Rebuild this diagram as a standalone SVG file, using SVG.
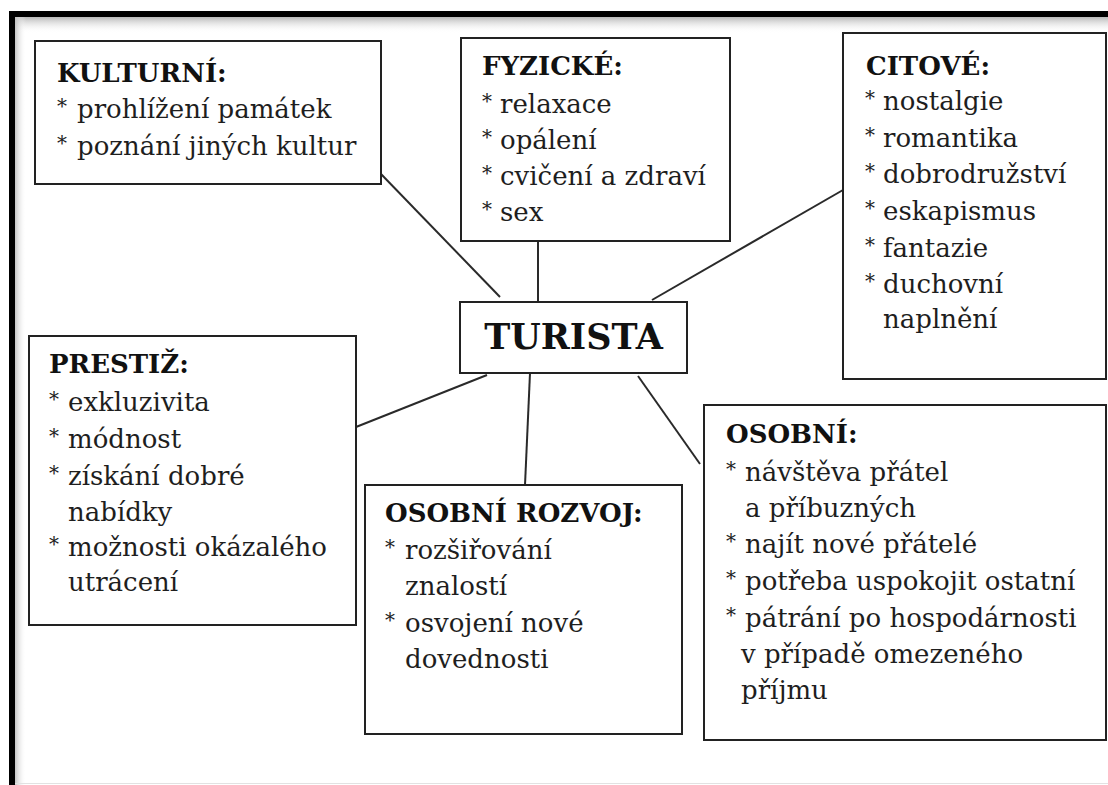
<svg xmlns="http://www.w3.org/2000/svg" width="1108" height="785" viewBox="0 0 1108 785">
<defs>
<linearGradient id="shTop" x1="0" y1="0" x2="0" y2="1">
<stop offset="0" stop-color="#b8b8b8"/>
<stop offset="1" stop-color="#ffffff" stop-opacity="0"/>
</linearGradient>
<linearGradient id="shLeft" x1="0" y1="0" x2="1" y2="0">
<stop offset="0" stop-color="#b8b8b8"/>
<stop offset="1" stop-color="#ffffff" stop-opacity="0"/>
</linearGradient>
<style>
.box{fill:#fff;stroke:#222;stroke-width:2}
.con line{stroke:#2a2a2a;stroke-width:2}
text{font-family:"DejaVu Serif","Liberation Serif",serif;font-size:26px;fill:#1e1e1e}
.t{font-weight:bold;fill:#111}
.big{font-size:35px;font-weight:bold;fill:#111}
.a{font-size:20px}
</style>
</defs>
<rect x="0" y="0" width="1108" height="785" fill="#fff"/>
<rect x="14" y="17" width="1094" height="16" fill="url(#shTop)"/>
<rect x="14" y="17" width="12" height="768" fill="url(#shLeft)"/>
<rect x="9" y="11" width="1099" height="6" fill="#000"/>
<rect x="9" y="11" width="6" height="774" fill="#000"/>
<line x1="15" y1="783.5" x2="1108" y2="783.5" stroke="#e2e2e2" stroke-width="1"/>

<g id="connectors" class="con">
<line x1="381" y1="174" x2="500" y2="297"/>
<line x1="538" y1="241" x2="538" y2="302"/>
<line x1="843" y1="190" x2="652" y2="300"/>
<line x1="356" y1="427" x2="487" y2="375"/>
<line x1="530" y1="373" x2="525" y2="485"/>
<line x1="638" y1="376" x2="700" y2="464"/>
</g>

<g id="kulturni">
<rect class="box" x="35" y="41" width="346" height="143"/>
<text class="t" x="57" y="82">KULTURNÍ:</text>
<text x="57" y="118"><tspan class="a" dy="-5">*</tspan><tspan x="77" dy="5">prohlížení památek</tspan></text>
<text x="57" y="155"><tspan class="a" dy="-5">*</tspan><tspan x="77" dy="5">poznání jiných kultur</tspan></text>
</g>

<g id="fyzicke">
<rect class="box" x="461" y="38" width="269" height="203"/>
<text class="t" x="482" y="75">FYZICKÉ:</text>
<text x="482" y="113"><tspan class="a" dy="-5">*</tspan><tspan x="500" dy="5">relaxace</tspan></text>
<text x="482" y="149"><tspan class="a" dy="-5">*</tspan><tspan x="500" dy="5">opálení</tspan></text>
<text x="482" y="185"><tspan class="a" dy="-5">*</tspan><tspan x="500" dy="5">cvičení a zdraví</tspan></text>
<text x="482" y="221"><tspan class="a" dy="-5">*</tspan><tspan x="500" dy="5">sex</tspan></text>
</g>

<g id="citove">
<rect class="box" x="843" y="33" width="263" height="346"/>
<text class="t" x="866" y="75">CITOVÉ:</text>
<text x="865" y="110"><tspan class="a" dy="-5">*</tspan><tspan x="883" dy="5">nostalgie</tspan></text>
<text x="865" y="147"><tspan class="a" dy="-5">*</tspan><tspan x="883" dy="5">romantika</tspan></text>
<text x="865" y="183"><tspan class="a" dy="-5">*</tspan><tspan x="883" dy="5">dobrodružství</tspan></text>
<text x="865" y="220"><tspan class="a" dy="-5">*</tspan><tspan x="883" dy="5">eskapismus</tspan></text>
<text x="865" y="257"><tspan class="a" dy="-5">*</tspan><tspan x="883" dy="5">fantazie</tspan></text>
<text x="865" y="293"><tspan class="a" dy="-5">*</tspan><tspan x="883" dy="5">duchovní</tspan></text>
<text x="883" y="328">naplnění</text>
</g>

<g id="turista">
<rect class="box" x="460" y="302" width="227" height="71"/>
<text class="big" x="573.5" y="349" text-anchor="middle">TURISTA</text>
</g>

<g id="prestiz">
<rect class="box" x="29" y="336" width="327" height="289"/>
<text class="t" x="49" y="373">PRESTIŽ:</text>
<text x="49" y="411"><tspan class="a" dy="-5">*</tspan><tspan x="68" dy="5">exkluzivita</tspan></text>
<text x="49" y="448"><tspan class="a" dy="-5">*</tspan><tspan x="68" dy="5">módnost</tspan></text>
<text x="49" y="485"><tspan class="a" dy="-5">*</tspan><tspan x="68" dy="5">získání dobré</tspan></text>
<text x="68" y="521">nabídky</text>
<text x="49" y="556"><tspan class="a" dy="-5">*</tspan><tspan x="68" dy="5">možnosti okázalého</tspan></text>
<text x="68" y="591">utrácení</text>
</g>

<g id="osobni-rozvoj">
<rect class="box" x="365" y="485" width="317" height="249"/>
<text class="t" x="385" y="522">OSOBNÍ ROZVOJ:</text>
<text x="385" y="559"><tspan class="a" dy="-5">*</tspan><tspan x="405" dy="5">rozšiřování</tspan></text>
<text x="405" y="595">znalostí</text>
<text x="385" y="632"><tspan class="a" dy="-5">*</tspan><tspan x="405" dy="5">osvojení nové</tspan></text>
<text x="405" y="668">dovednosti</text>
</g>

<g id="osobni">
<rect class="box" x="704" y="405" width="402" height="335"/>
<text class="t" x="726" y="443">OSOBNÍ:</text>
<text x="726" y="481"><tspan class="a" dy="-5">*</tspan><tspan x="745" dy="5">návštěva přátel</tspan></text>
<text x="745" y="517">a příbuzných</text>
<text x="726" y="553"><tspan class="a" dy="-5">*</tspan><tspan x="745" dy="5">najít nové přátelé</tspan></text>
<text x="726" y="590"><tspan class="a" dy="-5">*</tspan><tspan x="745" dy="5">potřeba uspokojit ostatní</tspan></text>
<text x="726" y="627"><tspan class="a" dy="-5">*</tspan><tspan x="745" dy="5">pátrání po hospodárnosti</tspan></text>
<text x="741" y="663">v případě omezeného</text>
<text x="741" y="699">příjmu</text>
</g>
</svg>
